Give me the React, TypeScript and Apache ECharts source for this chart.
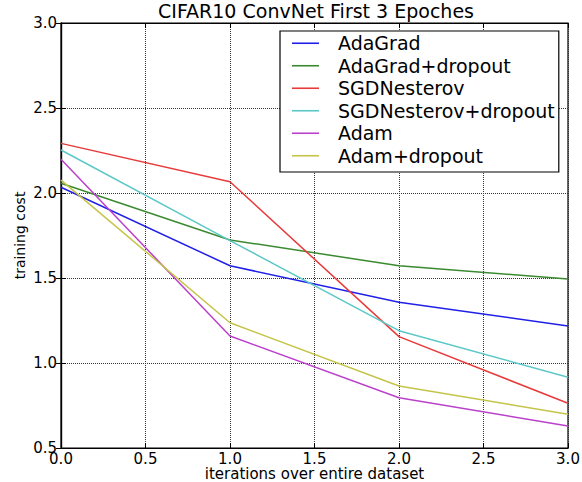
import React, { useEffect, useRef } from "react";
import * as echarts from "echarts";

const epochs = [0, 1, 2, 3];
const seriesNames = [
  "AdaGrad",
  "AdaGrad+dropout",
  "SGDNesterov",
  "SGDNesterov+dropout",
  "Adam",
  "Adam+dropout",
];
const adaGrad = [2.034, 1.572, 1.357, 1.218];
const adaGradDropout = [2.057, 1.724, 1.572, 1.494];
const sgdNesterov = [2.292, 2.066, 1.155, 0.763];
const sgdNesterovDropout = [2.253, 1.72, 1.19, 0.916];
const adam = [2.198, 1.159, 0.796, 0.629];
const adamDropout = [2.076, 1.237, 0.865, 0.698];
const seriesValues = [adaGrad, adaGradDropout, sgdNesterov, sgdNesterovDropout, adam, adamDropout];
const colors = ["#2020e8", "#3a8a30", "#e83a3a", "#5cc8c8", "#bb40cc", "#c4c448"];

const FONT = "DejaVu Sans";

export default function App() {
  const ref = useRef<HTMLDivElement>(null);
  useEffect(() => {
    if (!ref.current) return;
    const chart = echarts.init(ref.current, null, { renderer: "svg" });
    const axisLine = { show: true, lineStyle: { color: "#000", width: 1.2 } };
    const splitLine = { show: true, lineStyle: { color: "#333", type: "dotted", width: 1 } };
    chart.setOption({
      animation: false,
      backgroundColor: "#fff",
      title: {
        text: "CIFAR10 ConvNet First 3 Epoches",
        left: 316,
        textAlign: "center",
        top: 1,
        padding: 0,
        textStyle: { fontFamily: FONT, fontSize: 19, fontWeight: "normal", color: "#000" },
      },
      grid: {
        left: 61,
        top: 23,
        right: 14,
        bottom: 34,
        show: true,
        borderColor: "#000",
        borderWidth: 1.2,
        containLabel: false,
        outerBoundsMode: "none",
      },
      legend: {
        data: seriesNames,
        orient: "vertical",
        left: 280,
        top: 31,
        width: 279,
        padding: [2, 4, 6, 12],
        borderColor: "#000",
        borderWidth: 1.2,
        backgroundColor: "#fff",
        icon: "rect",
        itemWidth: 27,
        itemHeight: 1.6,
        itemGap: 2,
        textStyle: { fontFamily: FONT, fontSize: 19, color: "#000", padding: [0, 0, 0, 14], lineHeight: 20.5 },
      },
      xAxis: [
        {
          type: "value",
          min: 0,
          max: 3,
          interval: 0.5,
          name: "iterations over entire dataset",
          nameLocation: "middle",
          nameGap: 18,
          nameMoveOverlap: false,
          nameTextStyle: { fontFamily: FONT, fontSize: 15, lineHeight: 15, color: "#000" },
          axisLine,
          axisTick: { show: true, inside: true, length: 5, lineStyle: { color: "#000" } },
          axisLabel: {
            fontFamily: FONT,
            fontSize: 15,
            lineHeight: 15,
            color: "#000",
            margin: 3,
            formatter: (v: number) => v.toFixed(1),
          },
          splitLine,
        },
        {
          type: "value",
          position: "top",
          min: 0,
          max: 3,
          interval: 0.5,
          axisLine,
          axisTick: { show: true, inside: true, length: 5, lineStyle: { color: "#000" } },
          axisLabel: { show: false },
          splitLine: { show: false },
        },
      ],
      yAxis: [
        {
          type: "value",
          min: 0.5,
          max: 3,
          interval: 0.5,
          name: "training cost",
          nameLocation: "middle",
          nameGap: 34,
          nameMoveOverlap: false,
          nameTextStyle: { fontFamily: FONT, fontSize: 14, color: "#000" },
          axisLine,
          axisTick: { show: true, inside: true, length: 5, lineStyle: { color: "#000" } },
          axisLabel: {
            fontFamily: FONT,
            fontSize: 15,
            lineHeight: 15,
            color: "#000",
            margin: 4,
            formatter: (v: number) => v.toFixed(1),
          },
          splitLine,
        },
        {
          type: "value",
          position: "right",
          min: 0.5,
          max: 3,
          interval: 0.5,
          axisLine,
          axisTick: { show: true, inside: true, length: 5, lineStyle: { color: "#000" } },
          axisLabel: { show: false },
          splitLine: { show: false },
        },
      ],
      series: seriesNames.map((name, i) => ({
        name,
        type: "line",
        data: epochs.map((e, j) => [e, seriesValues[i][j]]),
        showSymbol: false,
        symbol: "none",
        color: colors[i],
        lineStyle: { width: 1.5, color: colors[i] },
      })),
    });
    return () => chart.dispose();
  }, []);
  return <div ref={ref} style={{ position: "fixed", left: 0, top: 0, width: 582, height: 482 }} />;
}
